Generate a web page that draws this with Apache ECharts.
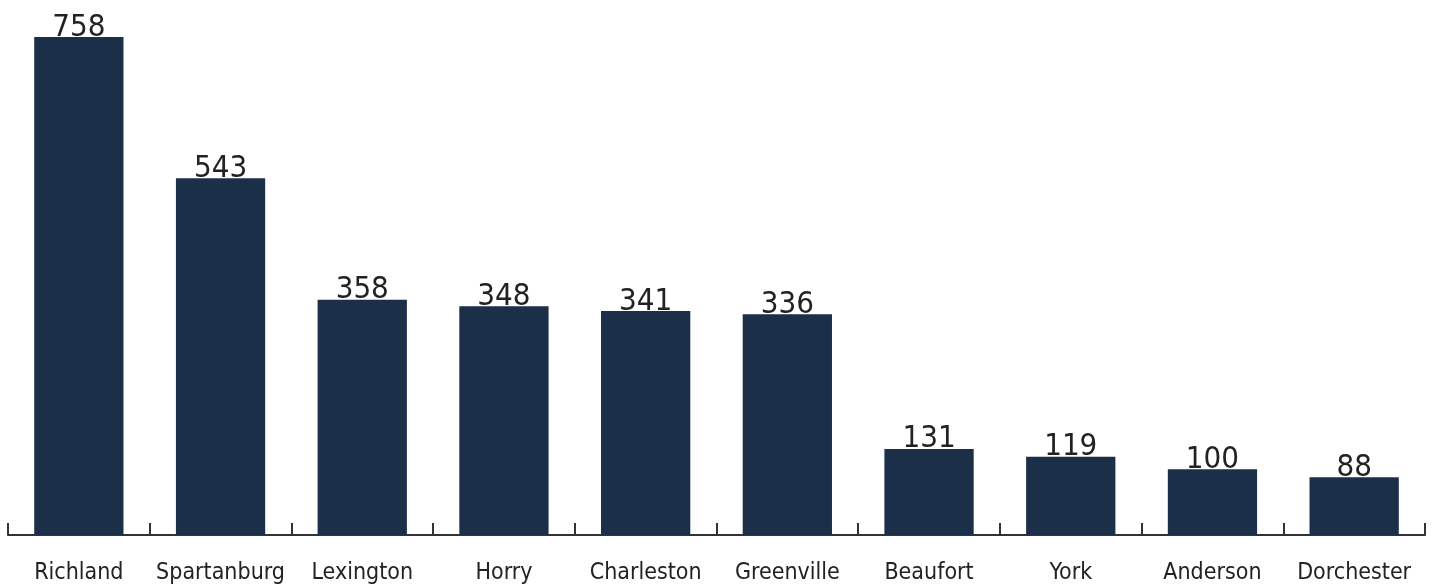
<!DOCTYPE html>
<html><head><meta charset="utf-8">
<script src="https://cdn.jsdelivr.net/npm/echarts@6/dist/echarts.min.js"></script>
<style>html,body{margin:0;padding:0;background:#fff}#c{width:1435px;height:586px}</style>
</head><body><div id="c"></div>
<script>
const categories = ["Richland","Spartanburg","Lexington","Horry","Charleston","Greenville","Beaufort","York","Anderson","Dorchester"];
const values = [758,543,358,348,341,336,131,119,100,88];
const FONT = "'DejaVu Sans Condensed', 'Liberation Sans Narrow', sans-serif";
const chart = echarts.init(document.getElementById('c'), null, {renderer:'canvas'});
chart.setOption({
  animation:false,
  grid:{left:8, right:10, top:37, bottom:51, containLabel:false},
  xAxis:{type:'category', data:categories,
    axisLine:{lineStyle:{color:'#333', width:2}},
    axisTick:{show:true, inside:true, interval:0, length:12, lineStyle:{color:'#333', width:2}},
    axisLabel:{interval:0, color:'#222', fontFamily:FONT, fontSize:23, margin:27}},
  yAxis:{type:'value', min:0, max:758, show:false, splitLine:{show:false}},
  series:[{type:'bar', data:values, barWidth:'63%',
    itemStyle:{color:'#1b2f49'},
    label:{show:true, position:'top', distance:-6, color:'#222', fontFamily:FONT, fontSize:31}}]
});
</script></body></html>
